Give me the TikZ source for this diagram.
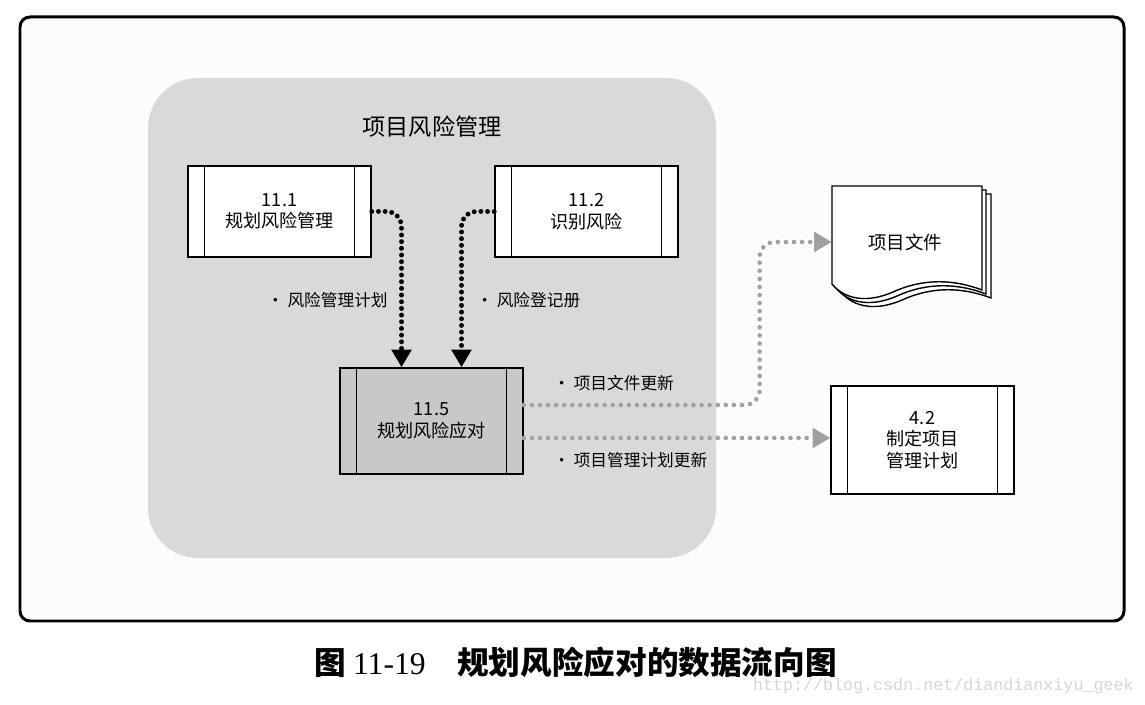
\documentclass[tikz,border=0pt]{standalone}
\usepackage{fontspec}
\setmainfont{Noto Sans CJK SC}
\newfontfamily\capserif{Liberation Serif}
\newfontfamily\urlfont{Liberation Mono}
\usetikzlibrary{arrows.meta, positioning}
\definecolor{panelgray}{HTML}{D9D9D9}
\definecolor{activegray}{HTML}{C8C8C8}
\definecolor{flowgray}{HTML}{A0A0A0}
\definecolor{framewhite}{HTML}{FCFCFC}

\begin{document}
\begin{tikzpicture}[
    x=0.02cm, y=-0.02cm,
    process/.style={draw, line width=0.9pt, fill=white, minimum width=3.66cm, minimum height=1.82cm,
        inner sep=0pt, align=center, font=\fontsize{10.3}{12.2}\selectfont,
        path picture={
            \draw[line width=0.9pt] ([xshift=0.33cm]path picture bounding box.north west) -- ([xshift=0.33cm]path picture bounding box.south west);
            \draw[line width=0.9pt] ([xshift=-0.33cm]path picture bounding box.north east) -- ([xshift=-0.33cm]path picture bounding box.south east);
        }},
    flowlabel/.style={font=\fontsize{9.5}{11}\selectfont, inner sep=0pt},
    darkflow/.style={line width=2.8pt, dash pattern=on 0pt off 3.8pt, line cap=round, rounded corners=0.3cm,
        -{Triangle[width=11pt, length=10pt]}},
    greyflow/.style={draw=flowgray, line width=2.6pt, dash pattern=on 0pt off 4.6pt, line cap=round, rounded corners=0.3cm,
        -{Triangle[width=11pt, length=10pt]}}
]
    \useasboundingbox (0,0) rectangle (1145,705);
    \fill[white] (0,0) rectangle (1145,705);

    % Frame and process group
    \draw[line width=1.7pt, fill=framewhite, rounded corners=0.2cm] (20,17) rectangle (1124,621);
    \fill[panelgray, rounded corners=1cm] (148,78) rectangle (716,558);
    \node[font=\fontsize{13.2}{15}\selectfont] (title) at (432,127) {项目风险管理};

    % Processes
    \node[process] (p111) at (279.5,211.5) {11.1\\规划风险管理};
    \node[process] (p112) at (586.5,211.5) {11.2\\识别风险};
    \node[process, fill=activegray, minimum height=2.12cm] (p115) at (431.5,421) {11.5\\规划风险应对};
    \node[process, minimum height=2.16cm] (p42) at (922.5,440) {4.2\\制定项目\\管理计划};

    % Project documents (stacked pages)
    \foreach \dx/\dy in {9/8, 4/4, 0/0} {
        \draw[line width=0.8pt, fill=white, shift={(\dx,\dy)}] (832,186) -- (982,186) -- (982,290)
            .. controls (945,276) and (915,282) .. (893,292)
            .. controls (868,303) and (845,300) .. (832,284) -- cycle;
    }
    \node[font=\fontsize{10.5}{12}\selectfont, minimum width=2.92cm, minimum height=2cm, inner sep=0pt] (docs) at (905,242) {项目文件};

    % Inputs
    \draw[darkflow] (p111.east) -| ([xshift=-0.6cm]p115.north);
    \draw[darkflow] (p112.west) -| ([xshift=0.6cm]p115.north);
    \node[flowlabel, anchor=east] (lbl1) at (388,300) {• 风险管理计划};
    \node[flowlabel, anchor=west] (lbl2) at (476,300) {• 风险登记册};

    % Outputs
    \draw[greyflow] ([yshift=0.32cm]p115.east) -| ([xshift=-1.44cm]docs.west) -- (docs.west);
    \draw[greyflow] ([yshift=-0.34cm]p115.east) -- ([yshift=-0.34cm]p115.east -| p42.west);
    \node[flowlabel, anchor=west] (lbl3) at (553,383) {• 项目文件更新};
    \node[flowlabel, anchor=west] (lbl4) at (553,460) {• 项目管理计划更新};

    % Caption
    \node[anchor=west, font=\fontsize{18}{20}\selectfont\bfseries] (caption) at (308,662)
        {图 {\capserif\mdseries 11-19}\quad 规划风险应对的数据流向图};
    \node[anchor=east, text=black!16, font=\urlfont\fontsize{9.5}{11}\selectfont, inner sep=0pt] (wmark) at (1134,686)
        {http://blog.csdn.net/diandianxiyu\_geek};
\end{tikzpicture}
\end{document}
